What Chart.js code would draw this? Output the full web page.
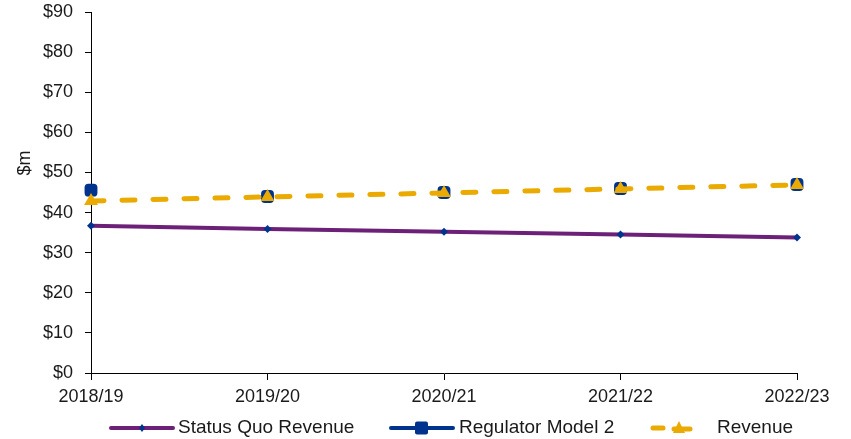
<!DOCTYPE html>
<html lang="en">
<head>
    <meta charset="UTF-8">
    <title>Revenue Comparison</title>
    <script src="https://cdn.jsdelivr.net/npm/chart.js"></script>
    <style>
        body { margin: 0; background: #fff; }
        .wrap { width: 851px; height: 439px; }
    </style>
</head>
<body>
    <div class="wrap"><canvas id="revChart" width="851" height="439"></canvas></div>

    <script>
        // Chart data
        const years = ['2018/19', '2019/20', '2020/21', '2021/22', '2022/23'];
        const statusQuo = [36.7, 35.9, 35.2, 34.5, 33.8];
        const regulatorModel2 = [45.6, 44.0, 45.0, 46.0, 47.0];
        const revenue = [42.9, 43.9, 44.9, 45.9, 46.9];
        const yTicks = [0, 10, 20, 30, 40, 50, 60, 70, 80, 90];

        const PURPLE = '#6D2077';
        const NAVY = '#00338D';
        const GOLD = '#EAAA00';
        const TEXT = '#1a1a1a';
        const FONT = "'Liberation Sans', Arial, sans-serif";

        // legend + rotated axis title drawn by hand
        const legendPlugin = {
            id: 'customLegend',
            afterDraw(chart) {
                const ctx = chart.ctx;
                ctx.save();
                ctx.font = '19px ' + FONT;
                ctx.fillStyle = TEXT;
                ctx.textBaseline = 'middle';

                // y title
                ctx.save();
                ctx.translate(25, 163);
                ctx.rotate(-Math.PI / 2);
                ctx.textAlign = 'center';
                ctx.font = '18px ' + FONT;
                ctx.fillText('$m', 0, 0);
                ctx.restore();

                const y = 428;
                ctx.lineCap = 'round';

                // Status Quo Revenue
                ctx.strokeStyle = PURPLE;
                ctx.lineWidth = 4;
                ctx.beginPath(); ctx.moveTo(111, y); ctx.lineTo(173, y); ctx.stroke();
                ctx.fillStyle = NAVY;
                ctx.beginPath();
                ctx.moveTo(142, y - 4); ctx.lineTo(145, y); ctx.lineTo(142, y + 4); ctx.lineTo(139, y);
                ctx.closePath(); ctx.fill();
                ctx.fillStyle = TEXT;
                ctx.fillText('Status Quo Revenue', 178, y);

                // Regulator Model 2
                ctx.strokeStyle = NAVY;
                ctx.beginPath(); ctx.moveTo(391, y); ctx.lineTo(453, y); ctx.stroke();
                ctx.fillStyle = NAVY;
                ctx.beginPath();
                ctx.roundRect(415, y - 6.5, 13, 13, 2);
                ctx.fill();
                ctx.fillStyle = TEXT;
                ctx.fillText('Regulator Model 2', 459, y);

                // Revenue
                ctx.strokeStyle = GOLD;
                ctx.lineWidth = 5;
                ctx.beginPath(); ctx.moveTo(653, y); ctx.lineTo(663, y); ctx.stroke();
                ctx.beginPath(); ctx.moveTo(674, y + 1); ctx.lineTo(690, y + 1); ctx.stroke();
                ctx.fillStyle = GOLD;
                ctx.beginPath();
                ctx.moveTo(679, y - 7); ctx.lineTo(685, y + 5); ctx.lineTo(673, y + 5);
                ctx.closePath(); ctx.fill();
                ctx.fillStyle = TEXT;
                ctx.fillText('Revenue', 717, y);

                ctx.restore();
            }
        };

        const ctx = document.getElementById('revChart').getContext('2d');
        new Chart(ctx, {
            type: 'line',
            data: {
                labels: years,
                datasets: [
                    {
                        label: 'Revenue',
                        data: revenue,
                        borderColor: GOLD,
                        backgroundColor: GOLD,
                        borderWidth: 5,
                        borderDash: [13, 18],
                        borderCapStyle: 'round',
                        pointStyle: 'triangle',
                        pointRadius: 8,
                        pointBorderWidth: 0,
                        order: 0,
                        clip: false
                    },
                    {
                        label: 'Regulator Model 2',
                        data: regulatorModel2,
                        borderColor: NAVY,
                        backgroundColor: NAVY,
                        showLine: false,
                        pointStyle: 'rectRounded',
                        pointRadius: 7.5,
                        pointBorderWidth: 0,
                        order: 1,
                        clip: false
                    },
                    {
                        label: 'Status Quo Revenue',
                        data: statusQuo,
                        borderColor: PURPLE,
                        backgroundColor: NAVY,
                        borderWidth: 4,
                        pointStyle: 'rectRot',
                        pointRadius: 4,
                        pointBorderWidth: 0,
                        order: 2,
                        clip: false
                    }
                ]
            },
            options: {
                responsive: false,
                animation: false,
                layout: { padding: { top: 12, right: 54, bottom: 0, left: 0 } },
                plugins: {
                    legend: { display: false },
                    tooltip: { enabled: false }
                },
                scales: {
                    x: {
                        offset: false,
                        grid: { drawOnChartArea: false, drawTicks: true, tickLength: 7, tickColor: '#000' },
                        border: { color: '#000', width: 1 },
                        ticks: { color: TEXT, font: { family: FONT, size: 18 }, padding: 6, maxRotation: 0 },
                        afterFit(scale) {
                            scale.height = 66;
                            scale.paddingLeft = 0;
                            scale.paddingRight = 0;
                        }
                    },
                    y: {
                        min: 0,
                        max: 90,
                        afterBuildTicks(scale) { scale.ticks = yTicks.map(v => ({ value: v })); },
                        grid: { drawOnChartArea: false, drawTicks: true, tickLength: 6, tickColor: '#000' },
                        border: { color: '#000', width: 1 },
                        ticks: {
                            color: TEXT,
                            font: { family: FONT, size: 18 },
                            padding: 12,
                            callback: v => '$' + v
                        },
                        afterFit(scale) {
                            scale.width = 91;
                            scale.paddingTop = 0;
                            scale.paddingBottom = 0;
                        }
                    }
                }
            },
            plugins: [legendPlugin]
        });
    </script>
</body>
</html>
